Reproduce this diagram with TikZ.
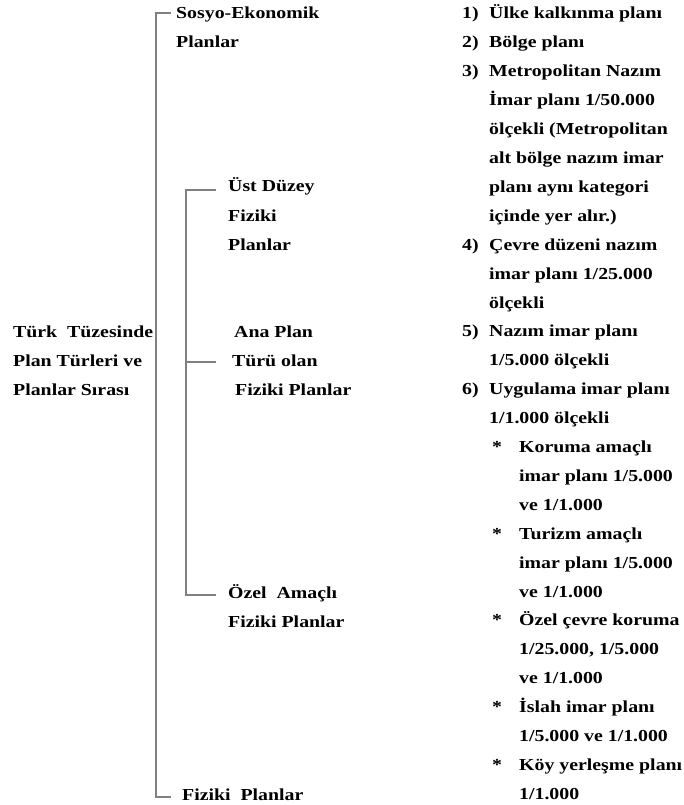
\documentclass[tikz,border=0pt]{standalone}
\usepackage{fontspec}
\setmainfont{Liberation Serif}[FakeStretch=1.18]
\tikzset{
  txt/.style={anchor=base west, inner sep=0pt, font=\fontsize{16.8}{20}\selectfont\bfseries},
  bracket/.style={draw=black!50, line width=1.6pt}
}

\begin{document}
\begin{tikzpicture}[x=1pt, y=-1pt]
    \useasboundingbox (0,0) rectangle (683,805);

    % Title on the left
    \node[txt] (t1) at (13,337) {Türk\ \ Tüzesinde};
    \node[txt] (t2) at (13,366) {Plan Türleri ve};
    \node[txt] (t3) at (13,395) {Planlar Sırası};

    % Main bracket
    \coordinate (mtop) at (156,13);
    \coordinate (mtopend) at (171,13);
    \coordinate (mbot) at (156,797);
    \coordinate (mbotend) at (171,797);
    \draw[bracket] (mtopend) -- (mtop) -- (mbot) -- (mbotend);

    % Inner bracket for the physical plans
    \coordinate (itop) at (186,190);
    \coordinate (itopend) at (216,190);
    \coordinate (imid) at (186,362);
    \coordinate (imidend) at (216,362);
    \coordinate (ibot) at (186,595);
    \coordinate (ibotend) at (216,595);
    \draw[bracket] (itopend) -- (itop) -- (ibot) -- (ibotend);
    \draw[bracket] (imid) -- (imidend);

    % Plan groups
    \node[txt] (sosyo) at (176,19) {Sosyo-Ekonomik};
    \node[txt] (sosyob) at (176,48) {Planlar};
    \node[txt] (ust) at (228,192) {Üst Düzey};
    \node[txt] (ustb) at (228,221) {Fiziki};
    \node[txt] (ustc) at (228,250) {Planlar};
    \node[txt] (ana) at (234,337) {Ana Plan};
    \node[txt] (anab) at (232,366) {Türü olan};
    \node[txt] (anac) at (235,395) {Fiziki Planlar};
    \node[txt] (ozel) at (228,598) {Özel\ \ Amaçlı};
    \node[txt] (ozelb) at (228,627) {Fiziki Planlar};
    \node[txt] (fiz) at (182,800) {Fiziki\ \ Planlar};

    % Numbered items
    \foreach \n/\k in {1/0, 2/1, 3/2, 4/8, 5/11, 6/13}
        \node[txt] (n\n) at (462,{19+28.9*\k}) {\n)};
    \foreach \t [count=\i from 0] in {
        {Ülke kalkınma planı}, {Bölge planı}, {Metropolitan Nazım},
        {İmar planı 1/50.000}, {ölçekli (Metropolitan}, {alt bölge nazım imar},
        {planı aynı kategori}, {içinde yer alır.)}, {Çevre düzeni nazım},
        {imar planı 1/25.000}, {ölçekli}, {Nazım imar planı},
        {1/5.000 ölçekli}, {Uygulama imar planı}, {1/1.000 ölçekli}}
        \node[txt] (r\i) at (489,{19+28.9*\i}) {\t};

    % Starred sub-items
    \foreach \k in {15, 18, 21, 24, 26}
        \node[txt] (s\k) at (492,{19+28.9*\k}) {*};
    \foreach \t [count=\i from 15] in {
        {Koruma amaçlı}, {imar planı 1/5.000}, {ve 1/1.000},
        {Turizm amaçlı}, {imar planı 1/5.000}, {ve 1/1.000},
        {Özel çevre koruma}, {1/25.000, 1/5.000}, {ve 1/1.000},
        {İslah imar planı}, {1/5.000 ve 1/1.000},
        {Köy yerleşme planı}, {1/1.000}}
        \node[txt] (r\i) at (519,{19+28.9*\i}) {\t};
\end{tikzpicture}
\end{document}
